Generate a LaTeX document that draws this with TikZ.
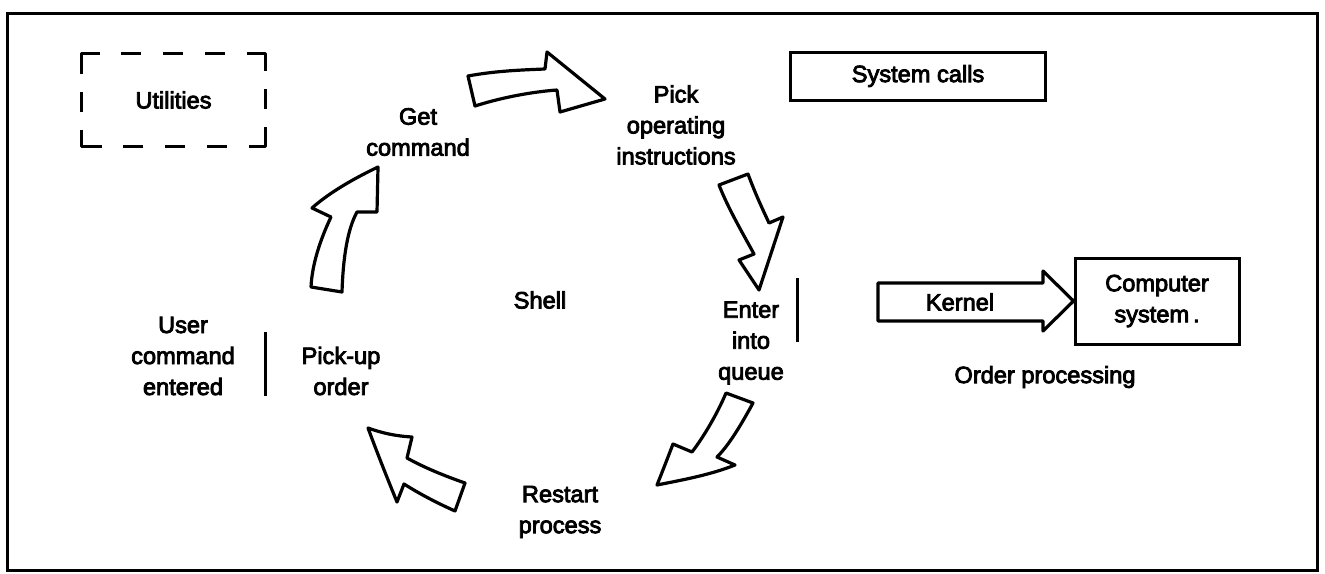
\documentclass[tikz,border=0pt]{standalone}
\usepackage{fontspec}
\setmainfont{Liberation Sans}[AutoFakeBold=3.5]
\begin{document}
\begin{tikzpicture}[x=0.5pt,y=-0.5pt,
  lbl/.style={inner sep=0pt, align=center, font=\fontsize{11.8}{15.5}\selectfont\bfseries},
  boxed/.style={lbl, draw, line width=1.5pt},
  blockarrow/.style={draw, line width=1.6pt, line join=round},
  bar/.style={line width=1.5pt}]
\useasboundingbox (0,0) rectangle (1325,573);
% frame
\draw[line width=1.5pt] (7,13) rectangle (1317,570);

% utilities (dashed box)
\node[lbl, minimum width=91.5pt, minimum height=46pt] (util) at (173.5,100) {Utilities};
\draw[line width=1.5pt, line join=round,
  dash pattern=on 18pt off 10.9pt on 10pt off 10.9pt on 10pt off 10.9pt on 10pt off 10.9pt
    on 18pt off 9pt on 10pt off 9pt
    on 18pt off 10.9pt on 10pt off 10.9pt on 10pt off 10.9pt on 10pt off 10.9pt
    on 18pt off 9pt on 10pt off 9pt]
  ([yshift=-9pt]util.north west) -- (util.north west) -- (util.north east)
  -- (util.south east) -- (util.south west) -- cycle;

% cycle labels
\node[lbl] (get) at (418,132) {Get\\command};
\node[lbl] (pick) at (676,125) {Pick\\operating\\instructions};
\node[lbl] (enter) at (751,343) {Enter\\into\\queue};
\node[lbl] (restart) at (560,512) {Restart\\process};
\node[lbl] (pickup) at (341,371) {Pick-up\\order};
\node[lbl] (user) at (183,356) {User\\command\\entered};
\node[lbl] (shell) at (540,300) {Shell};

% separators
\coordinate (barL1) at (265,332);
\coordinate (barL2) at (265,396);
\coordinate (barR1) at (797,278);
\coordinate (barR2) at (797,342);
\draw[bar] (barL1) -- (barL2);
\draw[bar] (barR1) -- (barR2);

% system calls
\node[boxed, minimum width=127.5pt, minimum height=24pt] (sys) at (918,76) {System calls};

% kernel and computer system
\node[boxed, minimum width=82pt, minimum height=43pt] (cs) at (1157,301) {Computer\\system\,.};
\draw[blockarrow] (cs.west) -- (1043,331) -- (1043,321) -- (878,321) -- (878,283)
  -- (1043,283) -- (1043,271) -- cycle;
\node[lbl] (kernel) at (960,302) {Kernel};
\node[lbl] (order) at (1045,377) {Order processing};

% cycle arrows
% get command -> pick operating instructions
\draw[blockarrow] (468,76) .. controls (495,71) and (520,70) .. (545,69) -- (547,52)
  -- (605,99) -- (560,112) -- (557,90) .. controls (530,92) and (500,98) .. (475,106) -- cycle;
% pick operating instructions -> enter into queue
\draw[blockarrow] (719,185) -- (748,174) .. controls (755,193) and (762,208) .. (769,223)
  -- (783,217) -- (759,290) -- (739,260) -- (754,254)
  .. controls (742,232) and (728,208) .. (719,185) -- cycle;
% enter into queue -> restart process
\draw[blockarrow] (726,393) -- (753,403) .. controls (741,425) and (729,445) .. (717,457)
  -- (735,465) .. controls (710,475) and (682,480) .. (657,485)
  .. controls (663,470) and (668,457) .. (673,444) -- (692,452)
  .. controls (705,435) and (718,412) .. (726,393) -- cycle;
% restart process -> pick-up order
\draw[blockarrow] (368,428) .. controls (382,433) and (395,436) .. (412,437) -- (407,458)
  .. controls (425,468) and (445,476) .. (465,483) -- (455,511)
  .. controls (435,502) and (420,494) .. (404,484) -- (397,502)
  .. controls (388,480) and (378,455) .. (368,428) -- cycle;
% pick-up order -> get command
\draw[blockarrow] (311,287) -- (342,292) .. controls (343,260) and (347,230) .. (357,212)
  -- (377,212) -- (378,167) .. controls (355,178) and (330,192) .. (312,208) -- (331,217)
  .. controls (320,240) and (312,265) .. (311,287) -- cycle;
\end{tikzpicture}
\end{document}
